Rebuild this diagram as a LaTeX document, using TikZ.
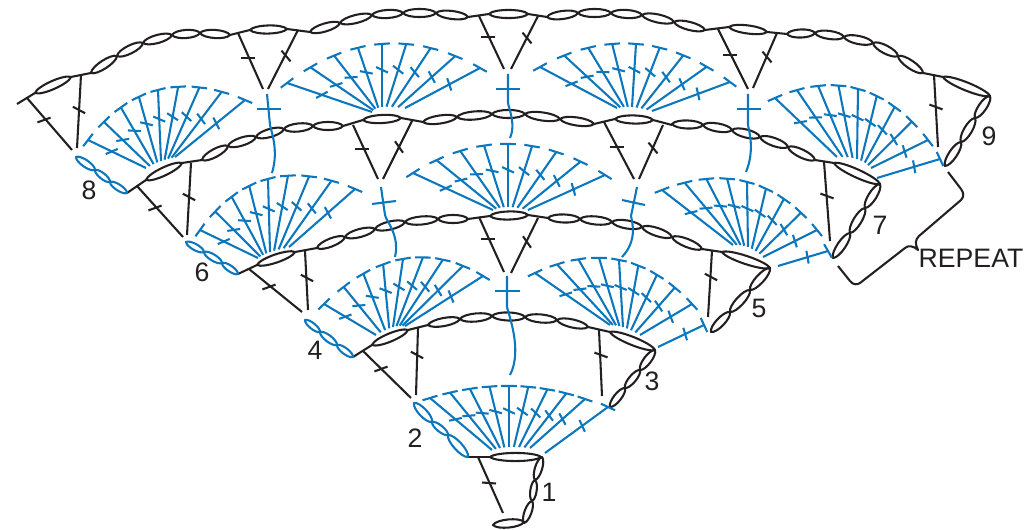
\documentclass[tikz,border=0pt]{standalone}
\usepackage{fontspec}
\setmainfont{Liberation Sans}
\definecolor{ink}{HTML}{231F20}
\definecolor{yarn}{HTML}{0C77BC}
\tikzset{
  inkline/.style={draw=ink,line width=1.55pt,line join=round},
  yarnline/.style={draw=yarn,line width=1.55pt,line join=round},
  lab/.style={text=ink,font=\fontsize{20}{20}\selectfont,inner sep=0pt},
}
% a short bar centred at x,y; the angle is measured on the page, positive going down to the right
\newcommand{\barat}[5]{{%
  \pgfmathsetmacro\bdx{(#5)*cos(#4)}
  \pgfmathsetmacro\bdy{(#5)*sin(#4)}
  \pgfmathsetmacro\bxa{(#2)+(\bdx)}
  \pgfmathsetmacro\bya{(#3)+(\bdy)}
  \pgfmathsetmacro\bxb{(#2)-(\bdx)}
  \pgfmathsetmacro\byb{(#3)-(\bdy)}
  \draw[#1] (\bxa,\bya) -- (\bxb,\byb);
}}
% oval stitch between two points
\newcommand{\lens}[5]{{%
  \pgfmathsetmacro\ldx{(#4)-(#2)}
  \pgfmathsetmacro\ldy{(#5)-(#3)}
  \pgfmathsetmacro\llen{veclen(\ldx,\ldy)}
  \pgfmathsetmacro\lw{min(5.4,0.2*(\llen))}
  \pgfmathsetmacro\lnx{0-(\ldy)/(\llen)*(\lw)}
  \pgfmathsetmacro\lny{(\ldx)/(\llen)*(\lw)}
  \pgfmathsetmacro\pax{(#2)+0.12*(\ldx)+(\lnx)}
  \pgfmathsetmacro\pay{(#3)+0.12*(\ldy)+(\lny)}
  \pgfmathsetmacro\pbx{(#2)+0.88*(\ldx)+(\lnx)}
  \pgfmathsetmacro\pby{(#3)+0.88*(\ldy)+(\lny)}
  \pgfmathsetmacro\qax{(#2)+0.12*(\ldx)-(\lnx)}
  \pgfmathsetmacro\qay{(#3)+0.12*(\ldy)-(\lny)}
  \pgfmathsetmacro\qbx{(#2)+0.88*(\ldx)-(\lnx)}
  \pgfmathsetmacro\qby{(#3)+0.88*(\ldy)-(\lny)}
  \draw[#1] (#2,#3) .. controls (\pax,\pay) and (\pbx,\pby) .. (#4,#5)
     .. controls (\qbx,\qby) and (\qax,\qay) .. cycle;
}}
% chain of oval stitches through a list of points
\newcommand{\chainof}[2]{%
  \foreach \x/\y [remember=\x as \px (initially 0),remember=\y as \py (initially 0),count=\c] in {#2}{%
    \ifnum\c>1
      \lens{#1}{\px}{\py}{\x}{\y}
    \fi
  }%
}
% black stitch: from, to, tick point, tick angle
\newcommand{\bst}[8][inkline]{%
  \draw[#1] (#2,#3) -- (#4,#5);
  \barat{#1}{#6}{#7}{#8}{7}
}
% fan: \tops sets the arc of the T bars, \fan the arc of the feet
\newcommand{\tops}[6]{\def\tax{#1}\def\tay{#2}\def\tmx{#3}\def\tmy{#4}\def\tcx{#5}\def\tcy{#6}}
\newcommand{\tspoke}[5]{{% base x,y, top x,y, angle of the T bar
  \pgfmathsetmacro\tth{atan2((#2)-(#4),(#3)-(#1))}
  \pgfmathsetmacro\tk{25-0.75*((\tth)-90)}
  \pgfmathsetmacro\kx{(#3)+0.41*((#1)-(#3))}
  \pgfmathsetmacro\ky{(#4)+0.41*((#2)-(#4))}
  \draw[yarnline] (#1,#2) -- (#3,#4);
  \barat{yarnline}{#3}{#4}{#5}{7.8}
  \barat{yarnline}{\kx}{\ky}{\tk}{6.5}
}}
\newcommand{\fan}[6]{%
  \foreach \i in {0,...,8}{%
    \pgfmathsetmacro\u{\i/8}
    \pgfmathsetmacro\tqx{2*\tmx-(\tax+\tcx)/2}
    \pgfmathsetmacro\tqy{2*\tmy-(\tay+\tcy)/2}
    \pgfmathsetmacro\bqx{2*#3-(#1+#5)/2}
    \pgfmathsetmacro\bqy{2*#4-(#2+#6)/2}
    \pgfmathsetmacro\stx{(1-\u)*(1-\u)*\tax+2*\u*(1-\u)*\tqx+\u*\u*\tcx}
    \pgfmathsetmacro\sty{(1-\u)*(1-\u)*\tay+2*\u*(1-\u)*\tqy+\u*\u*\tcy}
    \pgfmathsetmacro\sbx{(1-\u)*(1-\u)*#1+2*\u*(1-\u)*\bqx+\u*\u*#5}
    \pgfmathsetmacro\sby{(1-\u)*(1-\u)*#2+2*\u*(1-\u)*\bqy+\u*\u*#6}
    \pgfmathsetmacro\dtx{(1-\u)*(\tqx-\tax)+\u*(\tcx-\tqx)}
    \pgfmathsetmacro\dty{(1-\u)*(\tqy-\tay)+\u*(\tcy-\tqy)}
    \pgfmathsetmacro\dta{atan2(\dty,\dtx)}
    \tspoke{\sbx}{\sby}{\stx}{\sty}{\dta}
  }%
}
% cross with a curved tail: cross top, cross bottom, bar left, bar right, via, end
\newcommand{\crosstail}[6]{%
  \draw[yarnline] (#1) -- (#2) .. controls +(1,6) and (#5) .. (#6);
  \draw[yarnline] (#3) -- (#4);
}
\begin{document}
\begin{tikzpicture}[x=0.75pt,y=-0.75pt]
\useasboundingbox (0,0) rectangle (1024,530);
\fill[white] (0,0) rectangle (1024,530);

% ---- black chains and joining lines
\chainof{inkline}{493/525,524/522}
\chainof{inkline}{524/523,532/501,535/480,542/457}
\chainof{inkline}{490/457,541/457}
\draw[inkline] (468,457) -- (490,457);
\bst{478}{457}{503}{513}{489}{483}{4}

\draw[inkline] (353,357) -- (372,345);
\chainof{inkline}{372/345,408/330}
\draw[inkline] (408,330) -- (428,325);
\chainof{inkline}{428/325,460/319,492/316,525/317,557/320,588/327}
\draw[inkline] (588,327) -- (610,332);
\chainof{inkline}{610/332,655/350}
\chainof{inkline}{655/350,640/370,625/388,610/407}
\bst{363}{351}{411}{398}{381}{369}{-20}
\bst{418}{328}{416}{395}{417}{355}{28}
\bst{599}{330}{602}{396}{601}{355}{20}

\draw[inkline] (238,274) -- (257,265);
\chainof{inkline}{257/265,295/252}
\draw[inkline] (295,252) -- (317,248);
\chainof{inkline}{317/248,345/237,375/229,405/222,438/219,468/219}
\draw[inkline] (468,219) -- (490,216);
\chainof{inkline}{490/216,528/215}
\draw[inkline] (528,215) -- (548,218);
\chainof{inkline}{548/218,580/219,612/222,642/227,672/237,702/249}
\draw[inkline] (702,249) -- (722,252);
\chainof{inkline}{722/252,770/268}
\chainof{inkline}{770/268,750/290,730/312,711/332}
\bst{249}{269}{302}{312}{269}{287}{-20}
\bst{305}{251}{308}{310}{307}{278}{28}
\bst{479}{217}{504}{272}{488}{239}{0}
\bst{538}{218}{511}{273}{527}{242}{55}
\bst{712}{251}{708}{317}{711}{277}{28}

\draw[inkline] (127,193) -- (146,180);
\chainof{inkline}{146/180,182/163}
\draw[inkline] (182,163) -- (202,160);
\chainof{inkline}{202/160,228/146,256/137,284/129,313/126,343/126}
\draw[inkline] (343,126) -- (363,120);
\chainof{inkline}{363/120,401/118}
\draw[inkline] (401,118) -- (423,122);
\chainof{inkline}{423/122,457/117,492/114,525/114,560/119,594/124}
\draw[inkline] (594,124) -- (615,119);
\chainof{inkline}{615/119,653/120}
\draw[inkline] (653,120) -- (672,125);
\chainof{inkline}{672/124,703/125,732/130,760/137,788/147,815/160}
\draw[inkline] (815,160) -- (834,163);
\chainof{inkline}{834/163,880/184}
\chainof{inkline}{880/184,865/208,850/233,833/258}
\bst{137}{186}{183}{237}{155}{208}{-20}
\bst{191}{163}{187}{235}{189}{197}{28}
\bst{353}{125}{378}{179}{362}{149}{0}
\bst{412}{121}{383}{179}{399}{147}{55}
\bst{604}{122}{634}{179}{617}{147}{0}
\bst{663}{125}{639}{179}{653}{148}{50}
\bst{824}{162}{830}{241}{827}{196}{20}

\draw[inkline] (17,104) -- (35,93);
\chainof{inkline}{35/93,71/77}
\draw[inkline] (71,77) -- (91,73);
\chainof{inkline}{91/73,117/56,143/43,172/35,200/33,230/35}
\draw[inkline] (230,35) -- (250,30);
\chainof{inkline}{250/30,287/29}
\draw[inkline] (287,29) -- (310,32);
\chainof{inkline}{310/32,340/23,372/15,403/13,436/13,468/17}
\draw[inkline] (468,17) -- (489,14);
\chainof{inkline}{489/14,528/14}
\draw[inkline] (528,14) -- (547,17);
\chainof{inkline}{547/17,578/13,611/13,642/15,674/22,705/30}
\draw[inkline] (705,30) -- (729,27);
\chainof{inkline}{729/27,767/32}
\draw[inkline] (767,32) -- (787,34);
\chainof{inkline}{787/34,815/33,844/37,873/43,898/56,923/73}
\draw[inkline] (923,73) -- (943,77);
\chainof{inkline}{943/77,990/96}
\chainof{inkline}{990/96,975/118,961/142,945/166}
\bst{27}{98}{72}{150}{44}{120}{-20}
\bst{81}{75}{77}{148}{79}{110}{28}
\bst{238}{33}{263}{89}{248}{58}{0}
\bst{298}{30}{268}{89}{286}{56}{50}
\bst{479}{16}{504}{69}{488}{37}{0}
\bst{538}{16}{511}{69}{527}{38}{50}
\bst{718}{29}{748}{89}{730}{55}{0}
\bst{777}{33}{753}{88}{767}{57}{50}
\bst{934}{75}{938}{147}{936}{107}{20}

% ---- blue side chains
\chainof{yarnline}{468/457,448/435,432/422,414/403}
\chainof{yarnline}{305/320,320/332,337/345,353/357}
\chainof{yarnline}{186/242,204/252,222/263,238/274}
\chainof{yarnline}{76/157,95/170,110/182,127/193}

% ---- fans
\tops{430}{398}{509}{386}{585}{399}
\fan{492}{450}{509}{447}{530}{448}
\tspoke{545}{453}{608}{407}{25}

\tops{324}{304}{403}{259}{483}{276}
\fan{376}{335}{393}{327}{405}{326}
\tops{535}{273}{619}{260}{692}{304}
\fan{610}{325}{623}{327}{640}{335}
\tspoke{658}{347}{704}{325}{65}

\tops{200}{230}{268}{179}{355}{189}
\fan{258}{258}{270}{252}{289}{247}
\tops{413}{173}{508}{144}{605}{175}
\fan{493}{210}{508}{207}{528}{210}
\tops{662}{190}{747}{182}{817}{230}
\fan{733}{245}{748}{247}{763}{257}
\tspoke{778}{266}{828}{251}{60}

\tops{88}{140}{158}{90}{245}{100}
\fan{146}{168}{161}{161}{175}{157}
\tops{287}{83}{382}{44}{480}{68}
\fan{372}{112}{382}{107}{405}{108}
\tops{540}{67}{636}{44}{730}{82}
\fan{617}{108}{632}{107}{652}{111}
\tops{775}{98}{858}{89}{928}{140}
\fan{837}{157}{857}{159}{871}{168}
\tspoke{877}{178}{940}{159}{65}

% ---- crosses with tails
\crosstail{507,276}{507,307}{495,291}{520,291}{523,350}{510,375}
\crosstail{381,187}{385,215}{372,204}{396,201}{400,235}{395,257}
\crosstail{637,187}{631,216}{622,200}{645,205}{638,240}{622,257}
\crosstail{267,94}{270,125}{257,109}{281,109}{279,150}{272,173}
\crosstail{508,74}{508,103}{496,89}{520,89}{516,125}{510,138}
\crosstail{748,94}{748,125}{737,109}{761,109}{755,150}{746,172}

% ---- repeat bracket
\draw[inkline] (838,266) -- (850,281) .. controls (853,285) and (857,285) .. (860,283)
  -- (905,248) .. controls (908,245) and (914,246) .. (918,250)
  .. controls (915,244) and (915,240) .. (919,236)
  -- (961,200) .. controls (964,197) and (964,193) .. (961,189) -- (948,172);

% ---- labels
\node[lab] (r1) at (549,492) {1};
\node[lab] (r2) at (415,438) {2};
\node[lab] (r3) at (652,381) {3};
\node[lab] (r4) at (315,350) {4};
\node[lab] (r5) at (759,308) {5};
\node[lab] (r6) at (202,272) {6};
\node[lab] (r7) at (880,225) {7};
\node[lab] (r8) at (89,190) {8};
\node[lab] (r9) at (989,136) {9};
\node[lab] (rep) at (971,258) {REPEAT};
\end{tikzpicture}
\end{document}
